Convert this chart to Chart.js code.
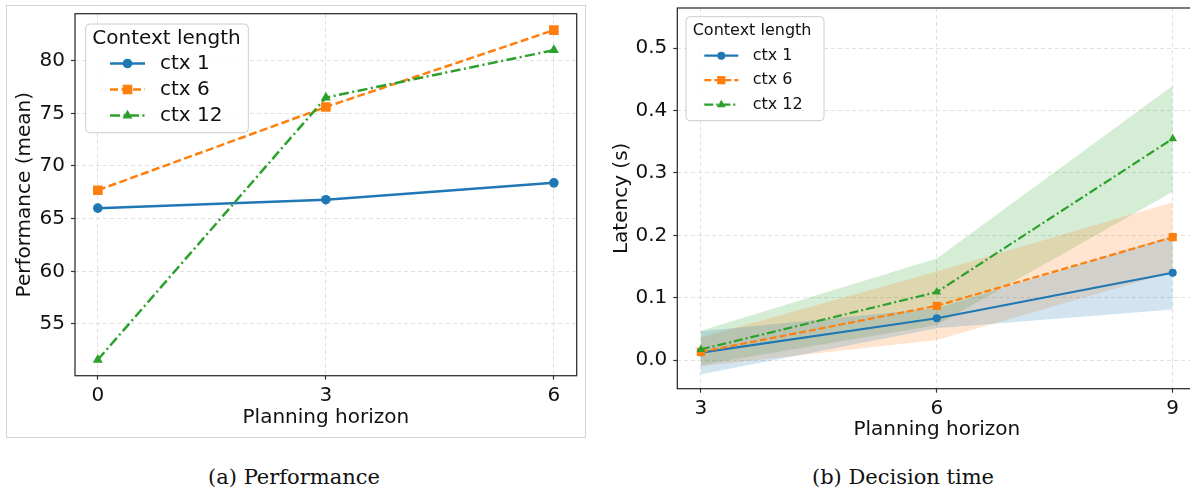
<!DOCTYPE html>
<html>
<head>
<meta charset="utf-8">
<script src="https://cdn.jsdelivr.net/npm/chart.js@4.4.1/dist/chart.umd.min.js"></script>
<style>
  html, body { margin: 0; padding: 0; background: #fff; width: 1190px; height: 491px; overflow: hidden; position: relative; }
  #panelA { position: absolute; left: 6px; top: 5px; width: 580px; height: 433px; border: 1px solid #d4d4d4; box-sizing: border-box; }
  #wrapA { position: absolute; left: 0; top: 0; width: 590px; height: 440px; }
  #wrapB { position: absolute; left: 600px; top: 0; width: 620px; height: 450px; }
  .caption { position: absolute; top: 464px; line-height: 26px; font-family: "DejaVu Serif"; font-size: 21px; color: #111; transform: translateX(-50%); white-space: nowrap; }
</style>
</head>
<body>
<div id="panelA"></div>
<div id="wrapA"><canvas id="perfChart"></canvas></div>
<div id="wrapB"><canvas id="latChart"></canvas></div>
<div class="caption" style="left:294px">(a) Performance</div>
<div class="caption" style="left:903px">(b) Decision time</div>

<script>
// ---- data ----
const seriesLabels = ["ctx 1", "ctx 6", "ctx 12"];

// (a) performance
const perfHorizons = [0, 3, 6];
const perfCtx1 = [66.0, 66.8, 68.4];
const perfCtx6 = [67.7, 75.6, 82.9];
const perfCtx12 = [51.6, 76.5, 81.0];
const perfXTicks = [0, 3, 6];
const perfYTicks = [55, 60, 65, 70, 75, 80];

// (b) decision time, mean and shaded band
const latHorizons = [3, 6, 9];
const latCtx1 = [0.012, 0.067, 0.140];
const latCtx1Lo = [-0.023, 0.051, 0.081];
const latCtx1Hi = [0.046, 0.083, 0.199];
const latCtx6 = [0.013, 0.087, 0.197];
const latCtx6Lo = [-0.010, 0.032, 0.141];
const latCtx6Hi = [0.036, 0.142, 0.253];
const latCtx12 = [0.017, 0.109, 0.355];
const latCtx12Lo = [-0.008, 0.056, 0.270];
const latCtx12Hi = [0.047, 0.163, 0.440];
const latXTicks = [3, 6, 9];
const latYTicks = [0.0, 0.1, 0.2, 0.3, 0.4, 0.5];

const colors = ["#1f77b4", "#ff7f0e", "#2ca02c"];
const bandColors = ["rgba(31,119,180,0.2)", "rgba(255,127,14,0.2)", "rgba(44,160,44,0.2)"];
const markers = ["circle", "rect", "triangle"];

const toPoints = (xs, ys) => xs.map((x, i) => ({ x: x, y: ys[i] }));

const drawMarker = (c, style, x, y, r) => {
    c.beginPath();
    if (style === "circle") {
        c.arc(x, y, r, 0, Math.PI * 2);
    } else if (style === "rect") {
        const h = r * Math.SQRT1_2;
        c.rect(x - h, y - h, 2 * h, 2 * h);
    } else {
        for (let k = 0; k < 3; k++) {
            const a = k * 2 * Math.PI / 3;
            const px = x + Math.sin(a) * r, py = y - Math.cos(a) * r;
            if (k) c.lineTo(px, py); else c.moveTo(px, py);
        }
        c.closePath();
    }
    c.fill();
};

// matplotlib style legend box inside the axes
const boxLegend = {
    id: "boxLegend",
    afterDraw(chart, args, o) {
        const c = chart.ctx;
        const entries = chart.data.datasets.filter(d => d.legendMarker);
        c.save();
        c.beginPath();
        c.roundRect(o.x, o.y, o.w, o.h, 4);
        c.fillStyle = "rgba(255,255,255,0.85)";
        c.fill();
        c.strokeStyle = "#cccccc";
        c.lineWidth = 1;
        c.stroke();

        c.font = `${o.fontSize}px "DejaVu Sans"`;
        c.textBaseline = "middle";
        c.fillStyle = "#111";
        c.fillText("Context length", o.titleX, o.titleY);

        entries.forEach((ds, i) => {
            const y = o.rowY + i * o.rowGap;
            c.strokeStyle = ds.borderColor;
            c.lineWidth = ds.borderWidth;
            c.setLineDash(ds.borderDash || []);
            c.beginPath();
            c.moveTo(o.lineX, y);
            c.lineTo(o.lineX + o.lineW, y);
            c.stroke();
            c.setLineDash([]);
            c.fillStyle = ds.borderColor;
            drawMarker(c, ds.pointStyle, o.lineX + o.lineW / 2, y, ds.pointRadius);
            c.fillStyle = "#111";
            c.fillText(ds.label, o.textX, y);
        });
        c.restore();
    }
};

const axesFrame = {
    id: "axesFrame",
    afterDatasetsDraw(chart, args, o) {
        const { ctx, chartArea: a } = chart;
        ctx.save();
        ctx.strokeStyle = o.color;
        ctx.lineWidth = o.width;
        ctx.strokeRect(a.left, a.top, a.right - a.left, a.bottom - a.top);
        ctx.restore();
    }
};

const tickFont = { family: "DejaVu Sans", size: 20 };
const titleFont = { family: "DejaVu Sans", size: 20 };

const makeScale = (min, max, tickValues, fmt, title, titlePad, fitSize, isX) => ({
    type: "linear",
    min: min,
    max: max,
    afterBuildTicks: (s) => { s.ticks = tickValues.map(v => ({ value: v })); },
    afterFit: (s) => {
        // fixed axis sizes so the plot box lands where the reference has it
        if (isX) s.height = fitSize; else s.width = fitSize;
        s.paddingTop = 0; s.paddingBottom = 0;
        s.paddingLeft = 0; s.paddingRight = 0;
    },
    ticks: {
        font: tickFont,
        color: "#111",
        padding: isX ? 4 : 6,
        maxRotation: 0,
        callback: fmt
    },
    grid: {
        color: "#e0e0e0",
        lineWidth: 1,
        tickLength: 4,
        tickColor: "#333",
        tickWidth: 1.2,
        tickBorderDash: []
    },
    border: { display: false, dash: [4, 3] },
    title: {
        display: true,
        text: title,
        font: titleFont,
        color: "#111",
        padding: titlePad
    }
});

const lineDataset = (i, xs, ys, width, dash, radius) => ({
    label: seriesLabels[i],
    data: toPoints(xs, ys),
    borderColor: colors[i],
    backgroundColor: colors[i],
    pointBackgroundColor: colors[i],
    borderWidth: width,
    borderDash: dash,
    pointStyle: markers[i],
    pointRadius: radius,
    pointBorderWidth: 0,
    tension: 0,
    fill: false,
    order: 3 - i,
    legendMarker: true
});

const bandDatasets = (i, xs, lo, hi) => ([
    {
        label: seriesLabels[i] + " low",
        data: toPoints(xs, lo),
        borderWidth: 0,
        pointRadius: 0,
        fill: false,
        order: 10 + i
    },
    {
        label: seriesLabels[i] + " high",
        data: toPoints(xs, hi),
        borderWidth: 0,
        pointRadius: 0,
        backgroundColor: bandColors[i],
        fill: "-1",
        order: 10 + i
    }
]);

const initPerfChart = () => {
    const c = document.getElementById("perfChart").getContext("2d");
    new Chart(c, {
        type: "line",
        data: {
            datasets: [
                lineDataset(0, perfHorizons, perfCtx1, 2.5, [], 4.8),
                lineDataset(1, perfHorizons, perfCtx6, 2.5, [8, 3.5], 6.8),
                lineDataset(2, perfHorizons, perfCtx12, 2.5, [10, 3.5, 2, 3.5], 5.8)
            ]
        },
        options: {
            maintainAspectRatio: false,
            responsive: true,
            animation: false,
            layout: { padding: { top: 13.7, right: 13.3, left: 0, bottom: 0 } },
            scales: {
                x: makeScale(-0.3, 6.3, perfXTicks, (v) => String(v), "Planning horizon", { top: 0, bottom: 10 }, 64.3, true),
                y: makeScale(50.09, 84.46, perfYTicks, (v) => String(v), "Performance (mean)", { top: 13, bottom: 0 }, 75, false)
            },
            plugins: {
                legend: { display: false },
                tooltip: { enabled: false },
                axesFrame: { color: "#333", width: 1.3 },
                boxLegend: {
                    x: 85.7, y: 24, w: 162.6, h: 108.7,
                    fontSize: 20, titleX: 92.3, titleY: 38.5,
                    rowY: 63.5, rowGap: 26, lineX: 110, lineW: 35, textX: 160
                }
            }
        },
        plugins: [axesFrame, boxLegend]
    });
};

const initLatChart = () => {
    const c = document.getElementById("latChart").getContext("2d");
    new Chart(c, {
        type: "line",
        data: {
            datasets: [
                lineDataset(0, latHorizons, latCtx1, 2.2, [], 4),
                lineDataset(1, latHorizons, latCtx6, 2.2, [7, 3], 5.8),
                lineDataset(2, latHorizons, latCtx12, 2.2, [9, 3, 2, 3], 5),
                ...bandDatasets(0, latHorizons, latCtx1Lo, latCtx1Hi),
                ...bandDatasets(1, latHorizons, latCtx6Lo, latCtx6Hi),
                ...bandDatasets(2, latHorizons, latCtx12Lo, latCtx12Hi)
            ]
        },
        options: {
            maintainAspectRatio: false,
            responsive: true,
            animation: false,
            layout: { padding: { top: 8, right: 23.7, left: 0, bottom: 0 } },
            scales: {
                x: makeScale(2.7, 9.3, latXTicks, (v) => String(v), "Planning horizon", { top: 0, bottom: 8.3 }, 61.3, true),
                y: makeScale(-0.046, 0.5646, latYTicks, (v) => v.toFixed(1), "Latency (s)", { top: 9.5, bottom: 0 }, 77.3, false)
            },
            plugins: {
                legend: { display: false },
                tooltip: { enabled: false },
                axesFrame: { color: "#222", width: 1.2 },
                boxLegend: {
                    x: 86, y: 16.7, w: 138, h: 104,
                    fontSize: 16, titleX: 92.7, titleY: 31,
                    rowY: 55.7, rowGap: 24.5, lineX: 104.3, lineW: 34, textX: 152.7
                }
            }
        },
        plugins: [axesFrame, boxLegend]
    });
};

window.addEventListener("load", () => {
    initPerfChart();
    initLatChart();
});
</script>
</body>
</html>
